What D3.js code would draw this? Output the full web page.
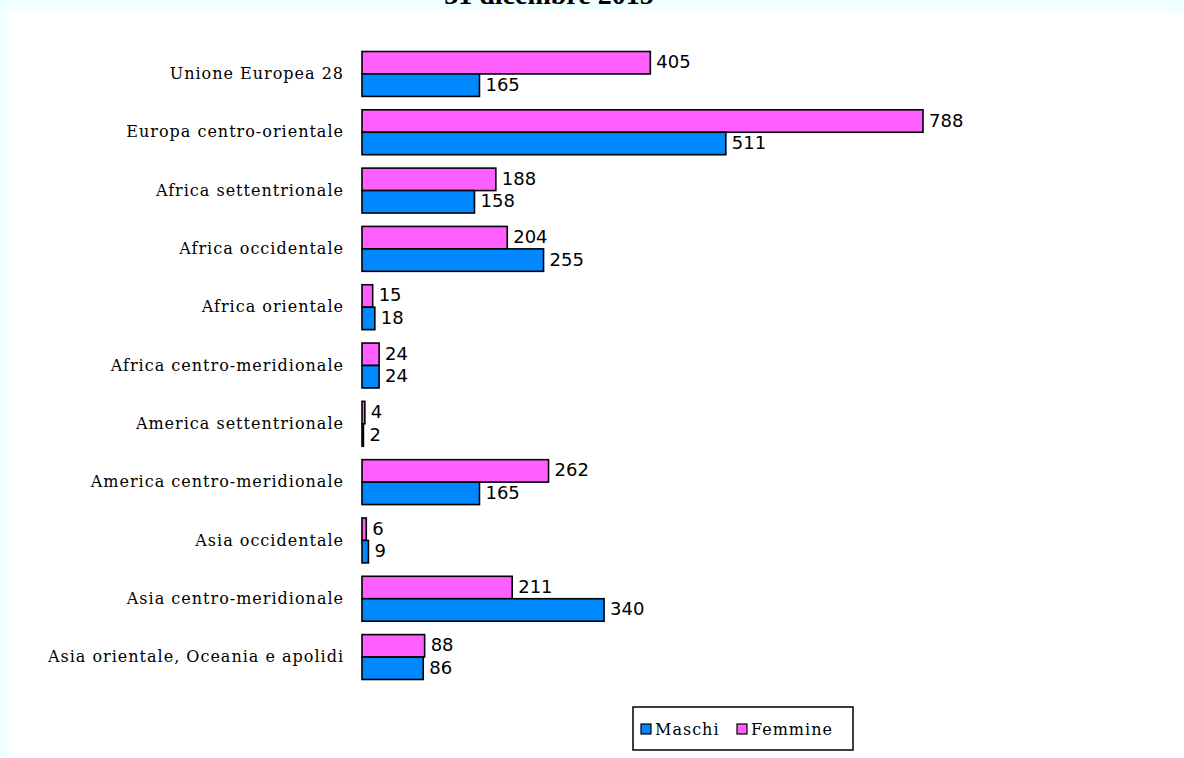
<!DOCTYPE html>
<html>
<head>
<meta charset="utf-8">
<script src="https://cdn.jsdelivr.net/npm/d3@7"></script>
<style>
  html, body { margin: 0; padding: 0; background: #f0ffff; overflow: hidden; }
  svg { display: block; }
</style>
</head>
<body>
<svg id="canvas" width="1184" height="758"></svg>
<script>
// aree di provenienza
let categories = [
  'Unione Europea 28',
  'Europa centro-orientale',
  'Africa settentrionale',
  'Africa occidentale',
  'Africa orientale',
  'Africa centro-meridionale',
  'America settentrionale',
  'America centro-meridionale',
  'Asia occidentale',
  'Asia centro-meridionale',
  'Asia orientale, Oceania e apolidi'
]
let femmine = [405, 788, 188, 204, 15, 24, 4, 262, 6, 211, 88]
let maschi = [165, 511, 158, 255, 18, 24, 2, 165, 9, 340, 86]
let seriesNames = ['Femmine', 'Maschi']
let legendNames = ['Maschi', 'Femmine']
let titleText = '31 dicembre 2015'

let colors = { Maschi: '#0088ff', Femmine: '#ff5fff' }

let canvas = d3.select('#canvas')

// fondo bianco del grafico
canvas.append('rect').attr('x', 8).attr('y', 10).attr('width', 1160).attr('height', 748).attr('fill', '#fff')
canvas.append('rect').attr('x', 1168).attr('y', 14).attr('width', 16).attr('height', 744).attr('fill', '#fff')

// titolo (tagliato in alto come nell'originale)
canvas.append('text')
  .attr('x', 549).attr('y', 4)
  .attr('text-anchor', 'middle')
  .style('font-family', '"Liberation Serif", serif')
  .style('font-weight', 'bold')
  .style('font-size', '28px')
  .text(titleText)

let data = categories.map((c, i) => ({ cat: c, Femmine: femmine[i], Maschi: maschi[i] }))

let xScale = d3.scaleLinear().domain([0, 788]).range([362, 923])
let yScale = d3.scaleBand().domain(categories).range([44.8, 686.2]).paddingInner(0.23).paddingOuter(0.115)
let inner = d3.scaleBand().domain(seriesNames).range([0, yScale.bandwidth()])

// etichette categorie
let yAxis = d3.axisLeft(yScale).tickSize(0).tickPadding(0)
let axisG = canvas.append('g').attr('transform', 'translate(344,0)').call(yAxis)
axisG.select('.domain').remove()
axisG.selectAll('text')
  .style('font-family', '"DejaVu Serif", serif')
  .style('font-size', '16px')
  .style('letter-spacing', '1px')
  .attr('fill', '#000')

let groups = canvas.selectAll('g.group')
  .data(data)
  .enter()
  .append('g')
  .attr('class', 'group')
  .attr('transform', (d) => 'translate(0,' + yScale(d.cat) + ')')

groups.selectAll('rect')
  .data((d) => seriesNames.map((s) => ({ s: s, v: d[s] })))
  .enter()
  .append('rect')
  .attr('x', xScale(0))
  .attr('y', (d) => inner(d.s))
  .attr('width', (d) => xScale(d.v) - xScale(0))
  .attr('height', inner.bandwidth())
  .attr('fill', (d) => colors[d.s])
  .attr('stroke', '#000')
  .attr('stroke-width', 1.6)

groups.selectAll('text.val')
  .data((d) => seriesNames.map((s) => ({ s: s, v: d[s] })))
  .enter()
  .append('text')
  .attr('class', 'val')
  .attr('x', (d) => xScale(d.v) + 6)
  .attr('y', (d) => inner(d.s) + inner.bandwidth() / 2 - 1)
  .attr('dy', '0.36em')
  .style('font-family', '"DejaVu Sans", sans-serif')
  .style('font-size', '18px')
  .text((d) => d.v)

// legenda
let legend = canvas.append('g').attr('transform', 'translate(633,707)')
legend.append('rect').attr('width', 220).attr('height', 43).attr('fill', '#fff').attr('stroke', '#000').attr('stroke-width', 1.5)
let offsets = [8, 104]
legendNames.forEach((n, i) => {
  legend.append('rect')
    .attr('x', offsets[i]).attr('y', 17)
    .attr('width', 10).attr('height', 10)
    .attr('fill', colors[n]).attr('stroke', '#000').attr('stroke-width', 1.2)
  legend.append('text')
    .attr('x', offsets[i] + 14).attr('y', 28)
    .style('font-family', '"DejaVu Serif", serif')
    .style('font-size', '16px')
    .style('letter-spacing', '1px')
    .text(n)
})
</script>
</body>
</html>
